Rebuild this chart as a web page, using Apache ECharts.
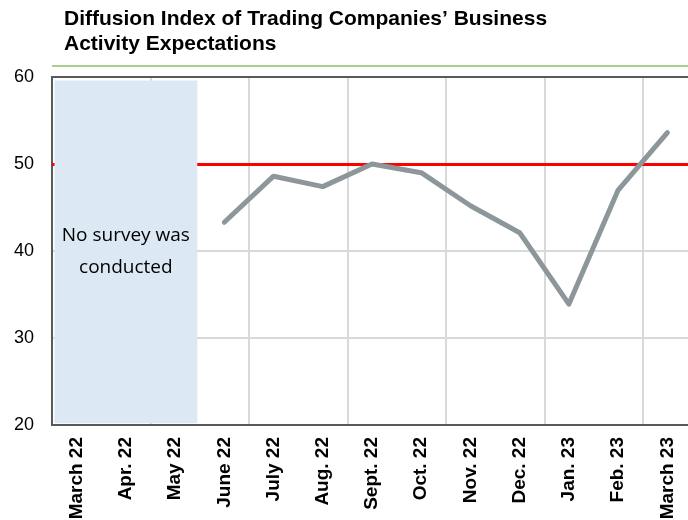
<!DOCTYPE html>
<html>
<head>
<meta charset="utf-8">
<script src="https://cdn.jsdelivr.net/npm/echarts@6/dist/echarts.min.js"></script>
<style>
  html, body { margin: 0; padding: 0; background: #fff; }
  #main { width: 688px; height: 520px; }
</style>
</head>
<body>
<div id="main"></div>
<script>
// months on the x axis
const months = ['March 22', 'Apr. 22', 'May 22', 'June 22', 'July 22', 'Aug. 22', 'Sept. 22',
  'Oct. 22', 'Nov. 22', 'Dec. 22', 'Jan. 23', 'Feb. 23', 'March 23']
// diffusion index, no survey for the first three months
const expectations = [null, null, null, 43.3, 48.6, 47.4, 50.0, 49.0, 45.2, 42.1, 33.9, 47.0, 53.6]
const yMin = 20
const yMax = 60
const yStep = 10
const threshold = 50
// months without survey (index range on the category axis)
const noSurveyFrom = 0
const noSurveyTo = 3
const noSurveyText = 'No survey was\nconducted'

const font = "'Liberation Sans', Arial, sans-serif"
const chart = echarts.init(document.getElementById('main'))

const option = {
  animation: false,
  textStyle: { fontFamily: font },
  title: {
    text: 'Diffusion Index of Trading Companies’ Business\nActivity Expectations',
    left: 64,
    top: 7,
    padding: 0,
    textStyle: { fontFamily: font, fontSize: 21, fontWeight: 'bold', color: '#000', lineHeight: 25 }
  },
  graphic: [
    {
      type: 'line',
      shape: { x1: 52, y1: 66, x2: 688, y2: 66 },
      style: { stroke: '#A9D18E', lineWidth: 2 }
    }
  ],
  grid: {
    left: 52,
    right: -4,
    top: 77,
    bottom: 95,
    z: 1,
    outerBoundsMode: 'none',
    containLabel: false,
    show: true,
    borderColor: '#5a5a5a',
    borderWidth: 2,
    backgroundColor: 'transparent'
  },
  xAxis: [
    {
      type: 'category',
      data: months,
      boundaryGap: true,
      axisLine: { show: false },
      axisTick: { show: false },
      axisLabel: {
        interval: 0,
        rotate: 90,
        margin: 12,
        fontSize: 19,
        fontWeight: 'bold',
        color: '#000'
      },
      splitLine: {
        show: true,
        interval: (i) => i > 0 && i % 2 === 0,
        lineStyle: { color: '#d9d9d9', width: 2 }
      }
    },
    {
      // helper axis for the shaded "no survey" block
      type: 'value',
      min: 0,
      max: months.length,
      show: false
    }
  ],
  yAxis: {
    type: 'value',
    min: yMin,
    max: yMax,
    interval: yStep,
    axisLine: { show: false },
    axisTick: { show: false },
    axisLabel: { fontSize: 18, color: '#000', margin: 18 },
    splitLine: { lineStyle: { color: '#d9d9d9', width: 2 } }
  },
  series: [
    {
      name: 'Expectations',
      type: 'line',
      data: expectations,
      symbol: 'none',
      z: 5,
      lineStyle: { color: '#8d969a', width: 5, cap: 'round', join: 'round' },
      markLine: {
        z: 2,
        silent: true,
        symbol: 'none',
        label: { show: false },
        lineStyle: { color: '#ff0000', width: 3, type: 'solid' },
        data: [{ yAxis: threshold }]
      }
    },
    {
      name: 'No survey',
      type: 'line',
      xAxisIndex: 1,
      data: [],
      markArea: {
        z: 3,
        silent: true,
        itemStyle: { color: '#dce9f5' },
        label: {
          show: true,
          position: 'inside',
          formatter: noSurveyText,
          fontFamily: "'Open Sans', 'Noto Sans', sans-serif",
          fontSize: 19,
          lineHeight: 32,
          color: '#000'
        },
        data: [[
          { xAxis: noSurveyFrom + 0.05, yAxis: yMin + 0.2 },
          { xAxis: noSurveyTo - 0.05, yAxis: yMax - 0.4 }
        ]]
      }
    }
  ]
}

option && chart.setOption(option)
</script>
</body>
</html>
